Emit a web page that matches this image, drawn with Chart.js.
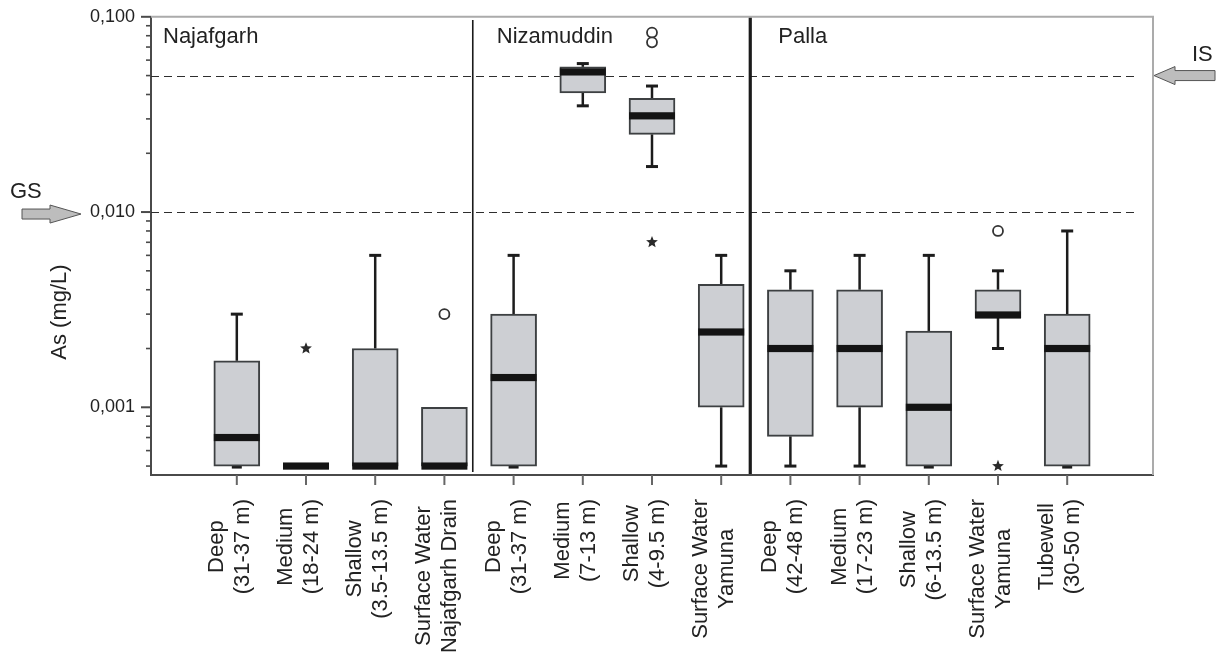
<!DOCTYPE html>
<html><head><meta charset="utf-8">
<script src="https://cdn.jsdelivr.net/npm/chart.js@4/dist/chart.umd.min.js"></script>
<style>html,body{margin:0;padding:0;background:#fff;overflow:hidden;}</style>
</head><body>
<canvas id="c" width="1218" height="657" style="width:1218px;height:657px;display:block"></canvas>
<script>
// ---- data ----
const categories = [["Deep","(31-37 m)"],["Medium","(18-24 m)"],["Shallow","(3.5-13.5 m)"],["Surface Water","Najafgarh Drain"],
  ["Deep","(31-37 m)"],["Medium","(7-13 m)"],["Shallow","(4-9.5 m)"],["Surface Water","Yamuna"],
  ["Deep","(42-48 m)"],["Medium","(17-23 m)"],["Shallow","(6-13.5 m)"],["Surface Water","Yamuna"],["Tubewell","(30-50 m)"]];
const whiskerLow  = [0.0005, 0.0005, 0.0005, 0.0005, 0.0005, 0.035,  0.0171, 0.0005, 0.0005, 0.0005, 0.0005, 0.002,   0.0005];
const q1          = [0.0005, 0.0005, 0.0005, 0.0005, 0.0005, 0.0408, 0.025,  0.001,  0.00071,0.001,  0.0005, 0.00288, 0.0005];
const median      = [0.0007, 0.0005, 0.0005, 0.0005, 0.00142,0.0522, 0.0311, 0.00243,0.002,  0.002,  0.001,  0.00297, 0.002];
const q3          = [0.00173,0.0005, 0.002,  0.001,  0.003,  0.0554, 0.0382, 0.00426,0.004,  0.004,  0.00246,0.004,   0.003];
const whiskerHigh = [0.003,  0.0005, 0.006,  0.001,  0.006,  0.0576, 0.0442, 0.006,  0.005,  0.006,  0.006,  0.005,   0.008];
const circleOutliers = [[],[],[],[0.003],[],[],[0.083,0.074],[],[],[],[],[0.008],[]];
const starOutliers   = [[],[0.002],[],[],[],[],[0.0070],[],[],[],[],[0.0005],[]];
const groups = ["Najafgarh","Nizamuddin","Palla"];
const groupBoundaries = [3.41, 7.42];
const yTickValues = [0.001, 0.01, 0.1];
const guideValues = [0.05, 0.01];
const guideLabels = ["IS", "GS"];
const yTitle = "As (mg/L)";

const FONT = '"Liberation Sans", Arial, Helvetica, sans-serif';
const TXT = '#222222';

function fmtTick(v){ return v.toFixed(3).replace('.', ','); }

const deco = {
  id: 'deco',
  beforeDatasetsDraw(chart){
    const {ctx, chartArea:a, scales:{x, y}} = chart;
    ctx.save();
    ctx.strokeStyle = '#ababab'; ctx.lineWidth = 2;
    ctx.beginPath(); ctx.moveTo(a.left, a.top); ctx.lineTo(a.right, a.top); ctx.lineTo(a.right, a.bottom); ctx.stroke();
    ctx.strokeStyle = '#2e2e2e'; ctx.lineWidth = 1.2; ctx.setLineDash([8,5]);
    guideValues.forEach(v => {
      const py = Math.round(y.getPixelForValue(v)) + 0.5;
      ctx.beginPath(); ctx.moveTo(a.left, py); ctx.lineTo(a.right - 16, py); ctx.stroke();
    });
    ctx.setLineDash([]);
    ctx.strokeStyle = '#1c1c1c';
    categories.forEach((c, i) => {
      const px = x.getPixelForValue(i);
      const pq1 = y.getPixelForValue(q1[i]), pq3 = y.getPixelForValue(q3[i]);
      const pl = y.getPixelForValue(whiskerLow[i]), ph = y.getPixelForValue(whiskerHigh[i]);
      ctx.lineWidth = 2.5;
      if (whiskerHigh[i] > q3[i]) {
        ctx.beginPath(); ctx.moveTo(px, pq3); ctx.lineTo(px, ph); ctx.stroke();
        ctx.lineWidth = 3; ctx.beginPath(); ctx.moveTo(px - 6, ph); ctx.lineTo(px + 6, ph); ctx.stroke();
      }
      ctx.lineWidth = 2.5;
      if (whiskerLow[i] < q1[i]) {
        ctx.beginPath(); ctx.moveTo(px, pq1); ctx.lineTo(px, pl); ctx.stroke();
        ctx.lineWidth = 3; ctx.beginPath(); ctx.moveTo(px - 6, pl); ctx.lineTo(px + 6, pl); ctx.stroke();
      } else if (q3[i] > q1[i]) {
        ctx.lineWidth = 3; ctx.beginPath(); ctx.moveTo(px - 5, pl + 1); ctx.lineTo(px + 5, pl + 1); ctx.stroke();
      }
    });
    ctx.restore();
  },
  afterDatasetsDraw(chart){
    const {ctx, chartArea:a, scales:{x, y}} = chart;
    ctx.save();
    ctx.fillStyle = '#141414';
    categories.forEach((c, i) => {
      const px = x.getPixelForValue(i), pm = y.getPixelForValue(median[i]);
      ctx.fillRect(px - 23, pm - 3.6, 46, 7.2);
    });
    ctx.strokeStyle = '#333'; ctx.lineWidth = 1.8; ctx.fillStyle = '#fff';
    circleOutliers.forEach((arr, i) => arr.forEach(v => {
      const px = x.getPixelForValue(i), py = y.getPixelForValue(v);
      ctx.beginPath(); ctx.arc(px, py, 5, 0, Math.PI*2); ctx.fill(); ctx.stroke();
    }));
    ctx.fillStyle = '#2a2a2a';
    starOutliers.forEach((arr, i) => arr.forEach(v => {
      const px = x.getPixelForValue(i), py = y.getPixelForValue(v);
      ctx.beginPath();
      for (let k = 0; k < 10; k++) {
        const r = k % 2 === 0 ? 6.2 : 2.7;
        const ang = -Math.PI/2 + k * Math.PI/5;
        const sx = px + r*Math.cos(ang), sy = py + r*Math.sin(ang);
        if (k === 0) ctx.moveTo(sx, sy); else ctx.lineTo(sx, sy);
      }
      ctx.closePath(); ctx.fill();
    }));
    ctx.strokeStyle = '#1a1a1a';
    [[groupBoundaries[0], 1.6, 20, a.bottom - 3], [groupBoundaries[1], 3.2, a.top + 1, a.bottom - 1]].forEach(([b, w, t, bt]) => {
      const px = x.getPixelForValue(b);
      ctx.lineWidth = w; ctx.beginPath(); ctx.moveTo(px, t); ctx.lineTo(px, bt); ctx.stroke();
    });
    ctx.fillStyle = TXT; ctx.font = '22px ' + FONT; ctx.textAlign = 'left'; ctx.textBaseline = 'alphabetic';
    const gx = [a.left + 12, x.getPixelForValue(groupBoundaries[0]) + 24, x.getPixelForValue(groupBoundaries[1]) + 28];
    groups.forEach((g, k) => ctx.fillText(g, gx[k], a.top + 26));
    ctx.restore();
  },
  afterDraw(chart){
    const {ctx, chartArea:a, scales:{x, y}} = chart;
    ctx.save();
    ctx.strokeStyle = '#4a4a4a';
    for (let d = -4; d <= -1; d++) {
      for (let m = 1; m <= 9; m++) {
        const v = m * Math.pow(10, d);
        if (v < y.min * 0.999 || v > y.max * 1.001) continue;
        const py = y.getPixelForValue(v);
        ctx.lineWidth = m === 1 ? 2 : 1.6;
        const len = m === 1 ? 10 : 5;
        ctx.beginPath(); ctx.moveTo(a.left - len, py); ctx.lineTo(a.left, py); ctx.stroke();
      }
    }
    ctx.strokeStyle = '#666'; ctx.lineWidth = 2;
    categories.forEach((c, i) => {
      const px = x.getPixelForValue(i);
      ctx.beginPath(); ctx.moveTo(px, a.bottom); ctx.lineTo(px, a.bottom + 10); ctx.stroke();
    });
    ctx.fillStyle = TXT; ctx.font = '22px ' + FONT; ctx.textAlign = 'center'; ctx.textBaseline = 'middle';
    categories.forEach((lines, i) => {
      const px = x.getPixelForValue(i);
      const W = Math.max(...lines.map(l => ctx.measureText(l).width));
      const cy = a.bottom + 24 + W/2;
      lines.forEach((l, j) => {
        const lx = px - 7 + (j - (lines.length - 1)/2) * 26;
        ctx.save(); ctx.translate(lx, cy); ctx.rotate(-Math.PI/2); ctx.fillText(l, 0, 0); ctx.restore();
      });
    });
    ctx.save(); ctx.translate(60, 312); ctx.rotate(-Math.PI/2); ctx.fillText(yTitle, 0, 0); ctx.restore();
    function arrow(tipX, cy, headLen, headHalf, bodyLen, bodyHalf, dir){
      const hb = tipX - dir*headLen, be = hb - dir*bodyLen;
      ctx.beginPath();
      ctx.moveTo(tipX, cy);
      ctx.lineTo(hb, cy - headHalf);
      ctx.lineTo(hb, cy - bodyHalf);
      ctx.lineTo(be, cy - bodyHalf);
      ctx.lineTo(be, cy + bodyHalf);
      ctx.lineTo(hb, cy + bodyHalf);
      ctx.lineTo(hb, cy + headHalf);
      ctx.closePath();
      ctx.fillStyle = '#bdbdbd'; ctx.fill();
      ctx.strokeStyle = '#555'; ctx.lineWidth = 1; ctx.stroke();
    }
    const pIS = y.getPixelForValue(guideValues[0]);
    const pGS = y.getPixelForValue(guideValues[1]);
    arrow(a.right + 1, pIS, 21, 9, 40, 5, -1);
    arrow(81, pGS + 2, 31, 9, 28, 5, 1);
    ctx.fillStyle = TXT; ctx.font = '22px ' + FONT; ctx.textAlign = 'left'; ctx.textBaseline = 'alphabetic';
    ctx.fillText(guideLabels[0], 1192, pIS - 15);
    ctx.fillText(guideLabels[1], 10, pGS - 14);
    ctx.restore();
  }
};

new Chart(document.getElementById('c'), {
  type: 'bar',
  data: {
    datasets: [{
      data: categories.map((c, i) => ({x: i, y: [q1[i], q3[i]]})),
      backgroundColor: '#cdcfd3',
      borderColor: '#3d4042',
      borderWidth: 2,
      borderSkipped: false,
      barThickness: 46
    }]
  },
  options: {
    responsive: false,
    animation: false,
    layout: {padding: {top: 15, right: 65, left: 0, bottom: 0}},
    plugins: {legend: {display: false}, tooltip: {enabled: false}},
    scales: {
      x: {
        type: 'linear', min: -1.24, max: 13.24, offset: false,
        ticks: {display: false},
        grid: {display: false, offset: false},
        border: {display: true, color: '#4a4a4a', width: 2},
        afterFit: s => { s.height = 182; }
      },
      y: {
        type: 'logarithmic', min: 0.00045, max: 0.1,
        afterBuildTicks: s => { s.ticks = yTickValues.map(v => ({value: v, major: true})); },
        afterFit: s => { s.width = 151; },
        ticks: {callback: v => fmtTick(v), font: {size: 18, family: FONT}, color: TXT, padding: 6, autoSkip: false},
        grid: {display: true, drawOnChartArea: false, drawTicks: true, tickLength: 10, color: 'rgba(0,0,0,0)'},
        border: {display: true, color: '#4a4a4a', width: 2}
      }
    }
  },
  plugins: [deco]
});
</script>
</body></html>
